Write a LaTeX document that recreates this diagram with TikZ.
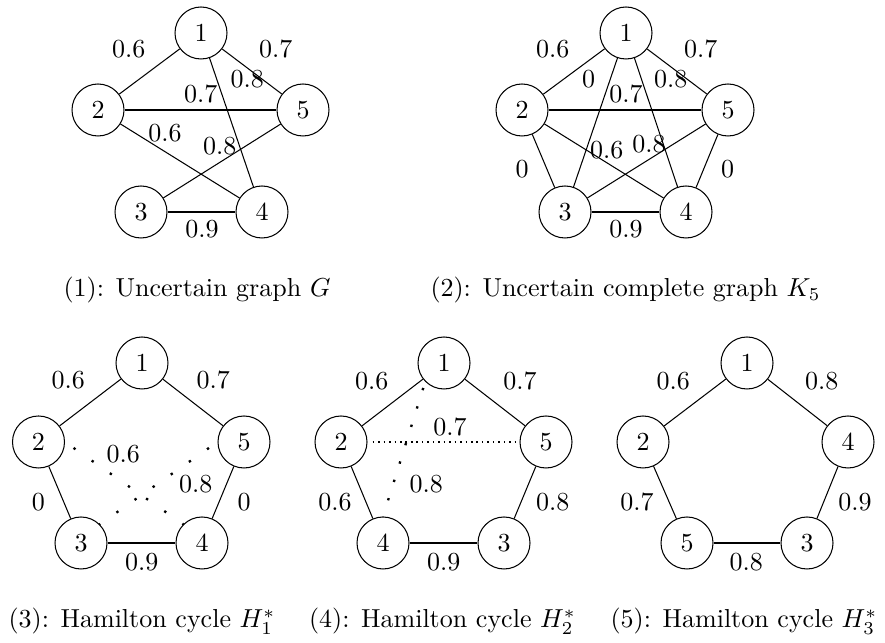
\documentclass[tikz,border=0pt]{standalone}
\begin{document}
\begin{tikzpicture}[x=0.3846pt,y=-0.3846pt,
  vtx/.style={draw,circle,minimum size=20pt,inner sep=0pt},
  wl/.style={inner sep=0pt},
  captext/.style={anchor=base,inner sep=0pt},
  sparse/.style={line width=0.9pt,dash pattern=on 0.9pt off #1},
  dense/.style={line width=0.6pt,dash pattern=on 0.6pt off 1.5pt}]
\useasboundingbox (0,0) rectangle (885,643);

% ---------- Graph (1) ----------
\node[vtx] (a1) at (201,33) {1};
\node[vtx] (a2) at (98,110) {2};
\node[vtx] (a5) at (303,110) {5};
\node[vtx] (a3) at (141,212) {3};
\node[vtx] (a4) at (262,212) {4};
\draw (a1)--(a2); \draw (a1)--(a5); \draw (a1)--(a4);
\draw (a2)--(a5); \draw (a2)--(a4); \draw (a5)--(a3); \draw (a3)--(a4);
\node[wl] (la12) at (128.8,49) {0.6};
\node[wl] (la15) at (275.8,49) {0.7};
\node[wl] (la14) at (247.3,79.3) {0.8};
\node[wl] (la25) at (200.7,94) {0.7};
\node[wl] (la24) at (165,133) {0.6};
\node[wl] (la53) at (219.7,145.7) {0.8};
\node[wl] (la34) at (202,229) {0.9};
\node[captext] (cap1) at (197,297) {(1): Uncertain graph $G$};

% ---------- Graph (2) ----------
\node[vtx] (b1) at (626,33) {1};
\node[vtx] (b2) at (522,110) {2};
\node[vtx] (b5) at (728,110) {5};
\node[vtx] (b3) at (565,212) {3};
\node[vtx] (b4) at (686,212) {4};
\draw (b1)--(b2); \draw (b1)--(b5); \draw (b1)--(b4); \draw (b1)--(b3);
\draw (b2)--(b5); \draw (b2)--(b4); \draw (b2)--(b3);
\draw (b5)--(b3); \draw (b5)--(b4); \draw (b3)--(b4);
\node[wl] (lb12) at (552.7,49) {0.6};
\node[wl] (lb15) at (700.7,49) {0.7};
\node[wl] (lb13) at (588.7,79.3) {0};
\node[wl] (lb14) at (670.7,79.3) {0.8};
\node[wl] (lb25) at (626,94) {0.7};
\node[wl] (lb24) at (606.7,149.7) {0.6};
\node[wl] (lb53) at (649,144.3) {0.8};
\node[wl] (lb23) at (522,169) {0};
\node[wl] (lb54) at (727.7,169) {0};
\node[wl] (lb34) at (626,229) {0.9};
\node[captext] (cap2) at (625.5,297) {(2): Uncertain complete graph $K_5$};

% ---------- Graph (3) ----------
\node[vtx] (c1) at (142,363) {1};
\node[vtx] (c2) at (38.5,442) {2};
\node[vtx] (c5) at (244,442) {5};
\node[vtx] (c3) at (81,543) {3};
\node[vtx] (c4) at (202,543) {4};
\draw (c1)--(c2); \draw (c1)--(c5); \draw (c2)--(c3); \draw (c5)--(c4); \draw (c3)--(c4);
\draw[sparse=7.6pt,shorten <=4pt] (c2.east)--(c4.north west);
\draw[sparse=7.6pt,shorten <=4pt] (c5.west)--(c3.north east);
\node[wl] (lc12) at (68.3,380) {0.6};
\node[wl] (lc15) at (213.3,380) {0.7};
\node[wl] (lc24) at (123.3,454) {0.6};
\node[wl] (lc53) at (195.7,484) {0.8};
\node[wl] (lc23) at (38.3,502.3) {0};
\node[wl] (lc54) at (244,502.3) {0};
\node[wl] (lc34) at (141.7,561.7) {0.9};
\node[captext] (cap3) at (142,628) {(3): Hamilton cycle $H_1^*$};

% ---------- Graph (4) ----------
\node[vtx] (d1) at (444,363) {1};
\node[vtx] (d2) at (341,442) {2};
\node[vtx] (d5) at (546,442) {5};
\node[vtx] (d4) at (383,543) {4};
\node[vtx] (d3) at (504,543) {3};
\draw (d1)--(d2); \draw (d1)--(d5); \draw (d2)--(d4); \draw (d5)--(d3); \draw (d4)--(d3);
\draw[dense,shorten <=2pt] (d2.east)--(d5.west);
\draw[sparse=6.5pt,shorten <=2.5pt] (d1.south west)--(d4.north);
\node[wl] (ld12) at (371.7,380.7) {0.6};
\node[wl] (ld15) at (520,380.7) {0.7};
\node[wl] (ld25) at (450,427.3) {0.7};
\node[wl] (ld14) at (426.3,484) {0.8};
\node[wl] (ld24) at (335,502) {0.6};
\node[wl] (ld53) at (552.7,502) {0.8};
\node[wl] (ld43) at (443.7,562) {0.9};
\node[captext] (cap4) at (442.5,628) {(4): Hamilton cycle $H_2^*$};

% ---------- Graph (5) ----------
\node[vtx] (e1) at (747,363) {1};
\node[vtx] (e2) at (643,442) {2};
\node[vtx] (e4) at (848,442) {4};
\node[vtx] (e5) at (687,543) {5};
\node[vtx] (e3) at (807,543) {3};
\draw (e1)--(e2); \draw (e1)--(e4); \draw (e2)--(e5); \draw (e4)--(e3); \draw (e5)--(e3);
\node[wl] (le12) at (673.3,380.7) {0.6};
\node[wl] (le14) at (821.7,380.7) {0.8};
\node[wl] (le25) at (637,502) {0.7};
\node[wl] (le43) at (855,502) {0.9};
\node[wl] (le53) at (746.3,562) {0.8};
\node[captext] (cap5) at (744,628) {(5): Hamilton cycle $H_3^*$};
\end{tikzpicture}
\end{document}
